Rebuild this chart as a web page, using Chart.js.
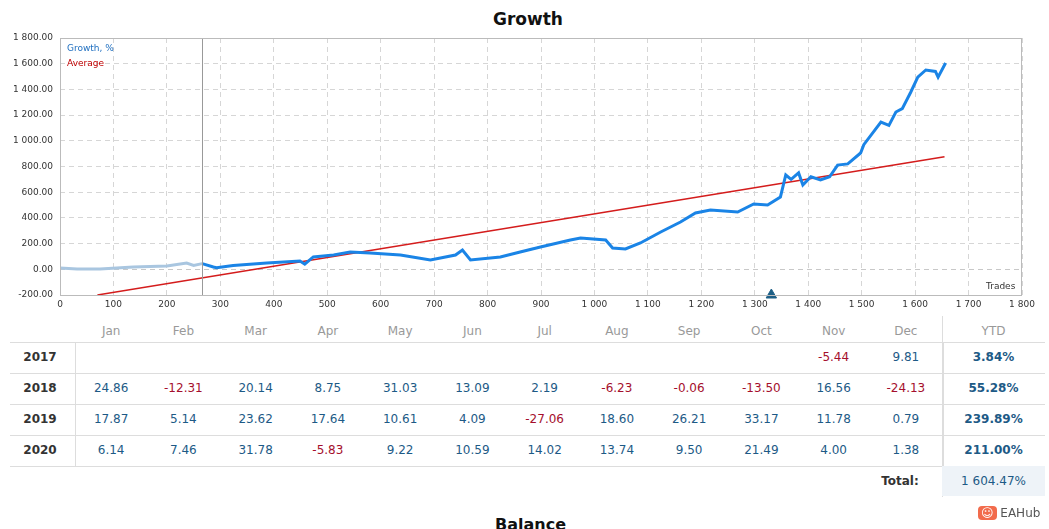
<!DOCTYPE html>
<html><head><meta charset="utf-8">
<script src="https://cdn.jsdelivr.net/npm/chart.js@4/dist/chart.umd.min.js"></script>
<style>
body{margin:0;background:#fff;font-family:"DejaVu Sans",sans-serif;width:1049px;height:529px;overflow:hidden;position:relative}
.a{position:absolute;white-space:nowrap}
#wrap{position:absolute;left:0;top:0;width:1049px;height:311px}
.c{position:absolute;text-align:center;font-size:12px;line-height:30px}
</style></head><body>
<div class="a" style="left:0;width:1056px;top:9px;text-align:center;font-size:17px;font-weight:bold;color:#111">Growth</div>
<div id="wrap"><canvas id="ch"></canvas></div>
<div class="a" style="left:67px;top:43px;font-size:9px;color:#1f6fc0">Growth, %</div>
<div class="a" style="left:67px;top:58px;font-size:9px;color:#c00000">Average</div>
<div class="a" style="left:986px;top:281px;font-size:9px;color:#333">Trades</div>
<div id="tbl"></div>
<div class="a" style="left:495px;top:515px;font-size:16px;font-weight:bold;color:#111">Balance</div>
<div class="a" style="left:978px;top:506px;font-size:12px;color:#555"><span style="background:#f26b4c;color:#fff;border-radius:4px;padding:0 3px">☺</span> EAHub</div>
<script>
const lightX=[0,32,75,137,200,237,250,266];
const lightY=[10,2,2,18,25,49,30,44];
const growthX=[266,287,293,324,387,449,458,474,512,543,580,637,693,740,753,768,824,861,899,955,974,1021,1034,1058,1086,1124,1161,1189,1217,1268,1298,1324,1348,1358,1368,1382,1390,1405,1423,1440,1455,1474,1498,1504,1536,1551,1564,1576,1592,1605,1620,1638,1643,1657];
const growthY=[44,18,12,30,49,65,40,96,111,135,127,111,72,111,150,72,96,135,173,228,243,228,166,158,205,290,368,438,461,446,508,500,563,734,700,750,656,720,695,720,811,820,905,970,1146,1120,1224,1250,1380,1496,1551,1540,1495,1605];
const avgX=[70,1655];
const avgY=[-200,875];
const markerX=[1331];
const years=["2017","2018","2019","2020"];
const months=["Jan","Feb","Mar","Apr","May","Jun","Jul","Aug","Sep","Oct","Nov","Dec"];
const v2017=[null,null,null,null,null,null,null,null,null,null,-5.44,9.81];
const v2018=[24.86,-12.31,20.14,8.75,31.03,13.09,2.19,-6.23,-0.06,-13.50,16.56,-24.13];
const v2019=[17.87,5.14,23.62,17.64,10.61,4.09,-27.06,18.60,26.21,33.17,11.78,0.79];
const v2020=[6.14,7.46,31.78,-5.83,9.22,10.59,14.02,13.74,9.50,21.49,4.00,1.38];
const ytd=["3.84%","55.28%","239.89%","211.00%"];
const total="1 604.47%";

function fmt(v,d){const s=Math.abs(v).toFixed(d).split('.');let i=s[0].replace(/\B(?=(\d{3})+(?!\d))/g,' ');return (v<0?'-':'')+i+(d?'.'+s[1]:'');}
const pts=(xs,ys)=>xs.map((x,i)=>({x,y:ys[i]}));
const vline={id:'vl',afterDatasetsDraw(c){const x=c.scales.x.getPixelForValue(266),a=c.chartArea,g=c.ctx;g.save();g.strokeStyle='#999';g.lineWidth=1;g.beginPath();g.moveTo(Math.round(x)+.5,a.top);g.lineTo(Math.round(x)+.5,a.bottom);g.stroke();g.strokeStyle='#bbb';g.strokeRect(a.left+.5,a.top+.5,a.width-1,a.height);g.restore();}};
new Chart(document.getElementById('ch'),{type:'line',
data:{datasets:[
{data:pts(lightX,lightY),borderColor:'#a9c6e0',borderWidth:3,pointRadius:0,tension:0},
{data:pts(growthX,growthY),borderColor:'#1a84e6',borderWidth:3,pointRadius:0,tension:0},
{data:pts(avgX,avgY),borderColor:'#d41c1c',borderWidth:1.5,pointRadius:0},
{data:markerX.map(x=>({x,y:-200})),showLine:false,pointStyle:'triangle',pointRadius:6,backgroundColor:'#1d5f86',borderColor:'#1d5f86',clip:false}
]},
options:{animation:false,responsive:true,maintainAspectRatio:false,
layout:{padding:{top:38,right:27,left:0,bottom:0}},
plugins:{legend:{display:false},tooltip:{enabled:false}},
scales:{
x:{type:'linear',min:0,max:1800,afterFit(s){s.height=16},border:{display:false,dash:[5,4]},
 grid:{color:'#d6d6d6',tickLength:0,drawTicks:false},
 ticks:{stepSize:100,color:'#333',font:{size:9,family:'DejaVu Sans'},padding:4,callback:v=>fmt(v,0)}},
y:{min:-200,max:1800,afterFit(s){s.width=60},border:{display:false,dash:[5,4]},
 grid:{color:c=>c.tick.value===0?'#c8c8c8':'#d6d6d6',lineWidth:1,drawTicks:false},
 ticks:{stepSize:200,color:'#333',font:{size:9,family:'DejaVu Sans'},padding:7,callback:v=>fmt(v,2)}}
}},plugins:[vline]});

// table
const T=document.getElementById('tbl');let h='';
const L=10,R=1045,M0=75,M1=942,cw=(M1-M0)/12,hdr=316,r0=342,rh=31;
months.forEach((m,i)=>h+=`<div class="c" style="left:${M0+i*cw}px;width:${cw}px;top:${hdr}px;color:#999">${m}</div>`);
h+=`<div class="c" style="left:${M1}px;width:${R-M1}px;top:${hdr}px;color:#999">YTD</div>`;
const rows=[v2017,v2018,v2019,v2020];
rows.forEach((r,j)=>{const t=r0+rh*j;
 h+=`<div class="a" style="left:${L}px;width:${R-L}px;top:${t}px;border-top:1px solid #ddd"></div>`;
 h+=`<div class="c" style="left:${L}px;width:60px;top:${t}px;font-weight:bold;color:#333">${years[j]}</div>`;
 r.forEach((v,i)=>{if(v!==null)h+=`<div class="c" style="left:${M0+i*cw}px;width:${cw}px;top:${t}px;color:${v<0?'#a50f2d':'#1d5a86'}">${v.toFixed(2)}</div>`;});
 h+=`<div class="c" style="left:${M1}px;width:${R-M1}px;top:${t}px;font-weight:bold;color:#1d5a86">${ytd[j]}</div>`;});
const tt=r0+rh*4;
h+=`<div class="a" style="left:${L}px;width:${R-L}px;top:${tt}px;border-top:1px solid #ddd"></div>`;
h+=`<div class="a" style="left:${M0}px;width:${M1-M0}px;top:${r0}px;height:${rh*4}px;border-left:1px solid #ddd;border-right:1px solid #ddd"></div>`;
h+=`<div class="a" style="left:${M1}px;width:${R-M1}px;top:${hdr}px;height:${tt+rh-hdr}px;border-left:1px solid #ddd"></div>`;
h+=`<div class="c" style="left:860px;width:80px;top:${tt}px;font-weight:bold;color:#333">Total:</div>`;
h+=`<div class="c" style="left:${M1}px;width:${R-M1}px;top:${tt}px;background:#eef3f8;color:#1d5a86">${total}</div>`;
T.innerHTML=h;
</script></body></html>
